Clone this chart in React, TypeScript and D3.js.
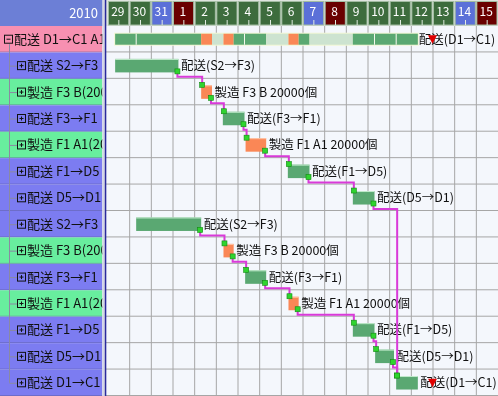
import * as d3 from "d3";
import React from "react";

// timeline columns (29 Dec 2009 .. 15 Jan 2010)
const days = ["29", "30", "31", "1", "2", "3", "4", "5", "6", "7", "8", "9", "10", "11", "12", "13", "14", "15"];
const dayKinds = ["w", "w", "sat", "sun", "w", "w", "w", "w", "w", "sat", "sun", "w", "w", "w", "w", "w", "sat", "sun"];

// left tree rows
const rowLabels = [
  "配送 D1→C1 A1(20000個)",
  "配送 S2→F3",
  "製造 F3 B(20000個)",
  "配送 F3→F1",
  "製造 F1 A1(20000個)",
  "配送 F1→D5",
  "配送 D5→D1",
  "配送 S2→F3",
  "製造 F3 B(20000個)",
  "配送 F3→F1",
  "製造 F1 A1(20000個)",
  "配送 F1→D5",
  "配送 D5→D1",
  "配送 D1→C1",
];
const rowKinds = ["sum", "ship", "make", "ship", "make", "ship", "ship", "ship", "make", "ship", "make", "ship", "ship", "ship"];

// tasks (day offsets from column "29")
const taskRow = [1, 2, 3, 4, 5, 6, 13, 7, 8, 9, 10, 11, 12];
const taskStart = [0.33, 4.3, 5.3, 6.35, 8.3, 11.3, 13.3, 1.3, 5.33, 6.33, 8.33, 11.3, 12.33];
const taskEnd = [3.25, 4.8, 6.3, 7.3, 9.3, 12.3, 14.3, 4.3, 5.8, 7.3, 8.8, 12.3, 13.2];
const taskLabels = [
  "配送(S2→F3)", "製造 F3 B 20000個", "配送(F3→F1)", "製造 F1 A1 20000個", "配送(F1→D5)", "配送(D5→D1)", "配送(D1→C1)",
  "配送(S2→F3)", "製造 F3 B 20000個", "配送(F3→F1)", "製造 F1 A1 20000個", "配送(F1→D5)", "配送(D5→D1)",
];

// dependency links [from task, to task]
const links = [[0, 1], [1, 2], [2, 3], [3, 4], [4, 5], [5, 6], [7, 8], [8, 9], [9, 10], [10, 11], [11, 12], [12, 6]];

// summary bar segments
const sumStart = [0.33, 1.3, 4.3, 4.8, 5.33, 5.8, 6.3, 7.3, 8.33, 8.8, 9.3, 11.3, 12.3, 13.3];
const sumEnd = [1.3, 4.3, 4.8, 5.33, 5.8, 6.3, 7.3, 8.33, 8.8, 9.3, 11.3, 12.3, 13.3, 14.3];
const sumKinds = ["g", "g", "o", "p", "o", "g", "g", "p", "o", "g", "p", "g", "g", "g"];
const sumLabel = "配送(D1→C1)";

// deadline milestone
const milestoneDay = 15;
const milestoneRows = [0, 13];

const W = 498, H = 396;
const leftW = 102.5;
const headerH = 26;
const font = "'Noto Sans CJK JP', sans-serif";

const rowFill: Record<string, string> = { sum: "#f790b1", ship: "#7c7cf1", make: "#68ee9e" };
const dayFill: Record<string, string> = { w: "#3d6c3d", sat: "#5b70d8", sun: "#6a0000" };
const barFill: Record<string, string> = { g: "#5aa872", o: "#fa8756", p: "#cde3d0" };

const App = () => {
  const x = d3.scaleLinear().domain([0, days.length]).range([108, W]);
  const y = d3.scaleLinear().domain([0, rowLabels.length]).range([headerH, H]);
  const rowH = y(1) - y(0);
  const cy = (r: number) => y(r) + rowH / 2;
  const colW = x(1) - x(0);
  const barH = 13.5;
  const top = (r: number) => cy(r) - barH / 2;
  const bot = (r: number) => cy(r) + barH / 2;

  return (
    <svg width={W} height={H} style={{ position: "fixed", left: 0, top: 0 }} fontFamily={font}>
      <defs>
        <clipPath id="leftClip">
          <rect x={0} y={0} width={leftW} height={H} />
        </clipPath>
      </defs>

      {/* chart background */}
      <rect x={leftW} y={0} width={W - leftW} height={H} fill="#f4f7fc" />

      {/* header */}
      <rect x={0} y={0} width={leftW} height={headerH} fill="#6c7fd6" />
      <text x={98} y={18} fontSize={13} fill="#fff" textAnchor="end">2010</text>
      <rect x={106} y={0} width={W - 106} height={headerH} fill="#dfe5df" />
      {days.map((d, i) => (
        <g key={"h" + i}>
          <rect x={x(i) + 0.5} y={1.5} width={colW - 1.5} height={headerH - 2.5}
            fill={dayFill[dayKinds[i]]} stroke="#a2bca2" strokeWidth={1} />
          <text x={x(i + 0.5) - 1} y={16} fontSize={12} fill="#fff" textAnchor="middle">{d}</text>
          <line x1={x(i + 0.5)} x2={x(i + 0.5)} y1={20} y2={25} stroke="#e0ebe0" strokeWidth={1} />
        </g>
      ))}

      {/* grid */}
      {d3.range(1, days.length).map((i) => (
        <line key={"v" + i} x1={x(i)} x2={x(i)} y1={headerH} y2={H} stroke="#a6a6a6" strokeWidth={1} />
      ))}
      {d3.range(1, rowLabels.length + 1).map((r) => (
        <line key={"hz" + r} x1={106} x2={W} y1={y(r) - 0.5} y2={y(r) - 0.5} stroke="#a6a6a6" strokeWidth={1} />
      ))}

      {/* left panel rows */}
      <g clipPath="url(#leftClip)">
        {rowLabels.map((l, r) => (
          <g key={"r" + r}>
            <rect x={0} y={y(r)} width={leftW} height={rowH} fill={rowFill[rowKinds[r]]} />
            <line x1={0} x2={leftW} y1={y(r + 1) - 0.5} y2={y(r + 1) - 0.5} stroke="#5b5b9a" strokeOpacity={0.45} />
          </g>
        ))}
        {/* tree lines */}
        <line x1={9.5} x2={9.5} y1={cy(0) + 5} y2={cy(rowLabels.length - 1)} stroke="#8a8aa2" strokeWidth={1} />
        {rowLabels.map((l, r) => r === 0 ? null : (
          <line key={"t" + r} x1={9.5} x2={17.5} y1={cy(r) + 0.5} y2={cy(r) + 0.5} stroke="#8a8aa2" strokeWidth={1} />
        ))}
        {rowLabels.map((l, r) => {
          const bx = r === 0 ? 4.5 : 17.5;
          const by = cy(r) - 4;
          return (
            <g key={"b" + r}>
              <rect x={bx} y={by} width={8} height={8} fill="none" stroke="#111" strokeWidth={1} />
              <line x1={bx + 2} x2={bx + 6} y1={by + 4} y2={by + 4} stroke="#111" strokeWidth={1} />
              {r !== 0 && <line x1={bx + 4} x2={bx + 4} y1={by + 2} y2={by + 6} stroke="#111" strokeWidth={1} />}
              <text x={bx + 9.5} y={cy(r) + 4.5} fontSize={13} fill="#111">{l}</text>
            </g>
          );
        })}
      </g>

      {/* separator */}
      <rect x={leftW} y={0} width={2.5} height={H} fill="#d4d6e4" />
      <rect x={104.8} y={0} width={1.5} height={H} fill="#2a2a9c" />

      {/* summary bar */}
      <rect x={x(sumStart[0]) - 1} y={cy(0) - 6.5} width={x(sumEnd[sumEnd.length - 1]) - x(sumStart[0]) + 2} height={13}
        fill="#f2f7d4" />
      {sumKinds.map((k, i) => (
        <rect key={"s" + i} x={x(sumStart[i])} y={cy(0) - 5.5} width={x(sumEnd[i]) - x(sumStart[i])} height={11}
          fill={barFill[k]} />
      ))}
      {sumKinds.map((k, i) => (i > 0 && sumKinds[i - 1] === k ? (
        <line key={"sp" + i} x1={x(sumStart[i])} x2={x(sumStart[i])} y1={cy(0) - 5.5} y2={cy(0) + 5.5} stroke="#f4f9ee" strokeWidth={1} />
      ) : null))}
      <text x={x(sumEnd[sumEnd.length - 1]) + 1} y={cy(0) + 4.5} fontSize={12.5} fill="#111">{sumLabel}</text>

      {/* task bars */}
      {taskRow.map((r, i) => {
        const k = rowKinds[r] === "make" ? "o" : "g";
        return (
          <g key={"k" + i}>
            <rect x={x(taskStart[i])} y={top(r)} width={x(taskEnd[i]) - x(taskStart[i])} height={barH} fill={barFill[k]} />
            <line x1={x(taskStart[i])} x2={x(taskEnd[i])} y1={top(r) + 0.5} y2={top(r) + 0.5}
              stroke={k === "o" ? "#ffc7a8" : "#c4ecce"} strokeWidth={1} />
            <text x={x(taskEnd[i]) + 2.5} y={cy(r) + 4.5} fontSize={12.5} fill="#111">{taskLabels[i]}</text>
          </g>
        );
      })}

      {/* dependency links */}
      {links.map(([a, b], i) => {
        const x1 = x(taskEnd[a]) - 1, y1 = bot(taskRow[a]) - 1;
        const x2 = x(taskStart[b]) + 1, y2 = top(taskRow[b]);
        const yh = y(taskRow[a] + 1) - 2;
        return (
          <path key={"l" + i} d={`M${x1},${y1}V${yh}H${x2}V${y2}`} fill="none" stroke="#d93ad9" strokeWidth={2} />
        );
      })}
      {links.map(([a, b], i) => {
        const x1 = x(taskEnd[a]) - 1, y1 = bot(taskRow[a]) - 1;
        const x2 = x(taskStart[b]) + 1, y2 = top(taskRow[b]) - 0.5;
        return (
          <g key={"q" + i}>
            <rect x={x1 - 2.5} y={y1 - 2.5} width={5} height={5} fill="#2fd42f" stroke="#128a12" strokeWidth={0.6} />
            <rect x={x2 - 2.5} y={y2 - 2.5} width={5} height={5} fill="#2fd42f" stroke="#128a12" strokeWidth={0.6} />
          </g>
        );
      })}

      {/* milestone markers */}
      {milestoneRows.map((r) => {
        const mx = x(milestoneDay) - 0.5;
        const my = cy(r);
        return (
          <path key={"m" + r} d={`M${mx - 4.5},${my - 4}L${mx + 4.5},${my - 4}L${mx},${my + 4.5}Z`} fill="#e00000" />
        );
      })}
    </svg>
  );
};

export default App;
